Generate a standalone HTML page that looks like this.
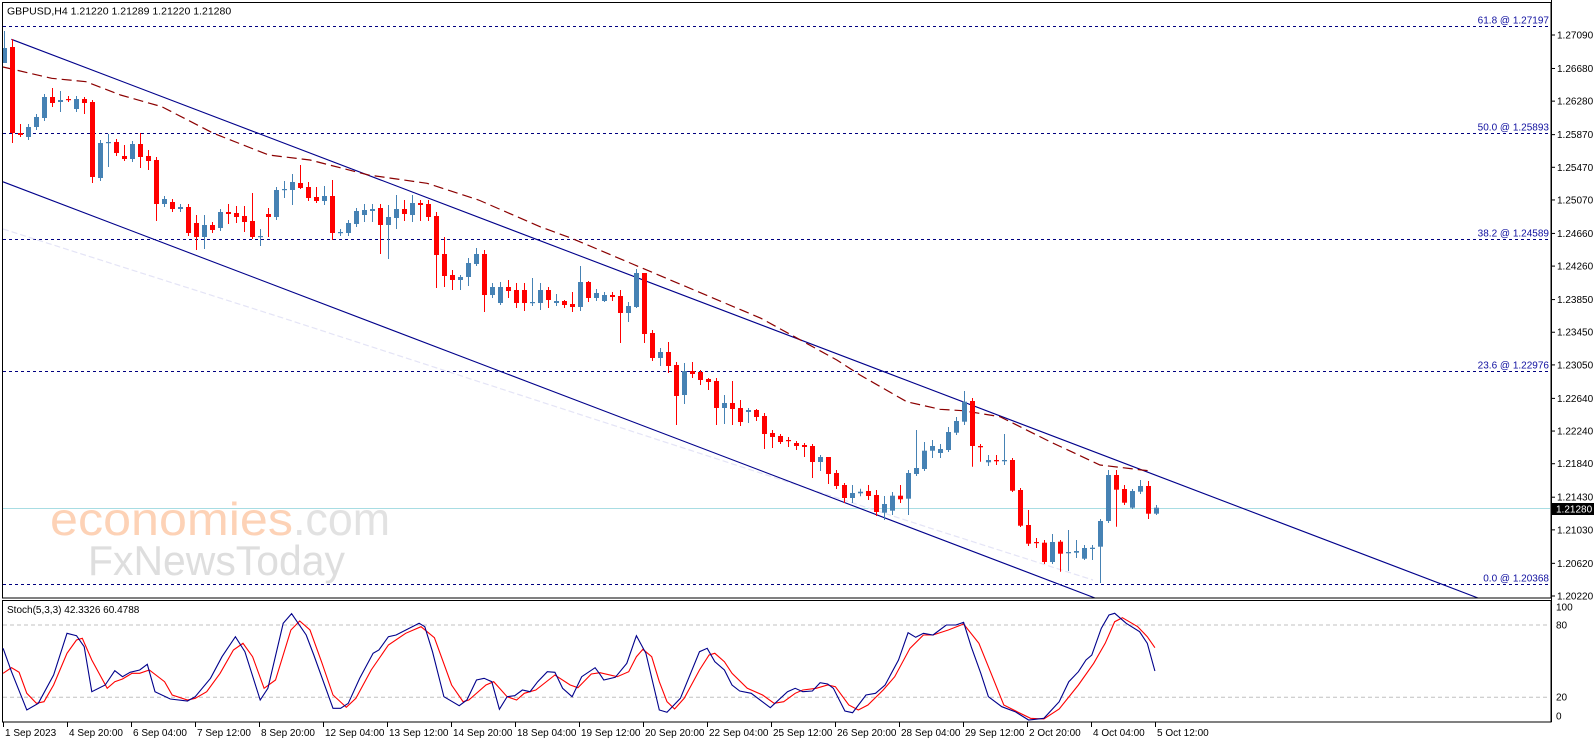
<!DOCTYPE html>
<html><head><meta charset="utf-8">
<style>
html,body{margin:0;padding:0;background:#fff;}
svg{display:block;}
text{font-family:"Liberation Sans",sans-serif;}
</style></head>
<body>
<svg id="s" xmlns="http://www.w3.org/2000/svg" width="1596" height="743" viewBox="0 0 1596 743">
<rect x="0" y="0" width="1596" height="743" fill="#fff"/>
<text x="50" y="535" font-size="46" fill="#fdd2b6" textLength="243" lengthAdjust="spacingAndGlyphs">economies</text>
<text x="293" y="535" font-size="46" fill="#e2e2e2" textLength="97" lengthAdjust="spacingAndGlyphs">.com</text>
<text x="88" y="575" font-size="42" fill="#dedede" textLength="257" lengthAdjust="spacingAndGlyphs">FxNewsToday</text>
<g id="g"></g>
</svg>
<script>
const NS="http://www.w3.org/2000/svg";
const g=document.getElementById('g');
function el(t,a,txt){const e=document.createElementNS(NS,t);for(const k in a)e.setAttribute(k,a[k]);if(txt!==undefined)e.textContent=txt;g.appendChild(e);return e;}
const Y=p=>35+(1.2709-p)*8166;
[["61.8 @ 1.27197",1.27197],["50.0 @ 1.25893",1.25893],["38.2 @ 1.24589",1.24589],["23.6 @ 1.22976",1.22976],["0.0 @ 1.20368",1.20368]].forEach(f=>{
 const y=Math.round(Y(f[1]))+0.5;
 el('line',{x1:3,y1:y,x2:1550,y2:y,stroke:'#000080','stroke-width':1,'stroke-dasharray':'3,3'});
 el('text',{x:1549,y:y-3,'font-size':10,'text-anchor':'end',fill:'#1010a0'},f[0]);
});
el('line',{x1:3,y1:508.5,x2:1550,y2:508.5,stroke:'#a8dde3','stroke-width':1});
el('polyline',{points:"3,229 286,319 520,395 933,529 1093,580",fill:'none',stroke:'#e4e4f6','stroke-width':1.2,'stroke-dasharray':'6,3'});
el('line',{x1:11.4,y1:39.3,x2:1478,y2:598,stroke:'#00008b','stroke-width':1.1});
el('line',{x1:3,y1:181.8,x2:1095,y2:598,stroke:'#00008b','stroke-width':1.1});
el('polyline',{points:"3,67 51.7,78.3 86,81.7 120.5,95 161.8,106.7 213.5,133.3 268.6,155 310,160 368.5,175 427,183.3 478.6,200 540,226.7 571.7,238.3 761,318.3 836.8,360 860,375 906.7,401.7 940,409.3 963,410.7 1000,416.7 1050,441.7 1100,465 1148,470.7",fill:'none',stroke:'#8b0000','stroke-width':1.2,'stroke-dasharray':'10,5'});
const D=[
["b",48,63,31,63],["r",47,133,39,143],["r",133,135,124,137],["b",127,137],["b",117,127],["b",97,118],["r",97,103,88,107],["b",100,102,91,112],["r",99,100,96,102],["b",99,109],["r",99,103,97,114],["r",102,177,100,183],["b",143,178],["b",142,143,134,167],["r",142,153],["r",156,159,145,161],["b",144,159],["r",144,157,133,168],["r",156,161,150,170],["r",160,204,157,221],["b",199,204],["r",202,209],["b",207,209],["r",207,233],["r",223,237,215,250],["b",225,237,215,249],["r",225,230],["b",212,228],["r",212,214,204,224],["r",213,217,206,223],["r",216,222,206,232],["r",221,237,193,239],["b",236,237,229,246],["r",214,217,208,237],["b",190,217],["b",189,190,181,198],["b",182,190,174,205],["r",183,188,165,189],["r",187,198,182,201],["r",197,201,187,203],["b",196,201,186,205],["r",196,233,180,240],["b",232,233],["b",223,233],["b",211,224],["b",210,215,204,222],["b",209,211,204,222],["r",208,225,204,254],["b",217,225,205,259],["b",209,218,195,229],["r",209,214,200,221],["b",203,215,195,222],["r",203,205,200,221],["r",204,217,200,221],["r",216,255,212,288],["r",254,276,237,287],["r",275,280,270,290],["b",277,280,275,290],["b",263,277,258,286],["b",254,264,248,266],["r",254,295,250,312],["b",287,295,283,298],["b",287,303,282,305],["r",287,291,280,298],["r",290,303,283,308],
["r",290,303,283,311],["b",302,303,278,306],["b",290,303,283,310],["r",290,300,287,308],["b",301,303,294,306],["r",301,305,300,308],["r",304,307,292,312],["b",282,307,266,311],["r",282,298,281,302],["b",293,298,289,301],["b",295,301,292,302],["r",295,297,292,301],["r",296,313,290,343],["b",306,313,302,322],["b",273,307,269,308],["r",273,334,273,343],["r",333,358,330,361],["b",352,358,348,366],["r",352,366,342,373],["r",365,396,362,425],["b",371,395,363,404],["r",371,374,362,378],["r",372,380,370,385],["r",379,382,378,390],["r",381,408,378,425],["b",403,408,395,424],["r",403,409,381,425],["r",408,422,400,426],["b",410,412,408,423],["r",410,417,409,421],["r",416,434,413,449],["r",433,437,430,448],["r",436,442,434,444],["r",440,441,437,447],["r",443,446,441,450],["r",445,447,443,457],["r",446,462,444,478],["b",457,462,455,471],["r",457,474,457,484],["r",473,486,470,489],["r",485,498,483,503],["b",493,498,485,503],
["b",491.7,493.3],["r",491,496,485,500],["r",495,512,490,516],["b",504,512.7,496,520],["b",495.7,510.7,492,515],["r",495.7,499.3,485,503],["b",473,498.7,470,515],["b",468,474,430,476],["b",450.7,469,442,471],["b",446,450.7,440,458],["b",449,453,444,458],["b",432,450,427,452],["b",421,432.7,417,435],["b",401.7,421.7,391,425],["r",401,446,398,466.7],["r",446,447.3,444,461.7],["b",460,462.3,455,466],["r",460,461.3,455,465],["b",460,461.3,434,465],["r",460,490.7,458,492],["r",490,525.7,488,527],["r",525,543.7,510,546],["r",542,543,538,548],["r",542.7,562,540,564],["b",542,562,534,564],["r",541.7,553.7,540,571.7],["b",552,553.3,530,571],["b",551,552.7,540,558],["b",548,558.7,545,560],["b",547.7,549,545,560],["b",521,546.7,519,583],["b",475,521,470,523],["r",475,489.7,470,526.7],["r",489,502.7,485,505],["b",491,507.7,489,509],["b",486,491.7,480,494],["r",486,513.7,481,519],["b",507.7,513.7,505,515]
];
D.forEach((d,i)=>{
 const x=Math.round(3.8+8*i);
 const col=d[0]=="b"?"#4682b4":"#ff0000";
 const wt=d[3]!==undefined?d[3]:d[1]-3, wb=d[4]!==undefined?d[4]:d[2]+3;
 el('line',{x1:x+0.5,y1:wt,x2:x+0.5,y2:wb,stroke:col,'stroke-width':1});
 el('rect',{x:x-2,y:d[1],width:5,height:Math.max(1.2,d[2]-d[1]),fill:col});
});
el('rect',{x:2.5,y:2.5,width:1548.5,height:595.5,fill:'none',stroke:'#000','stroke-width':1});
el('rect',{x:2.5,y:600.5,width:1548.5,height:121.5,fill:'none',stroke:'#000','stroke-width':1});
el('rect',{x:1552,y:0,width:44,height:743,fill:'#fff'});
el('line',{x1:1551.5,y1:0,x2:1551.5,y2:722,stroke:'#000','stroke-width':1});
el('text',{x:7,y:14.5,'font-size':10.5,fill:'#000'},"GBPUSD,H4  1.21220 1.21289 1.21220 1.21280");
["1.27090","1.26680","1.26280","1.25870","1.25470","1.25070","1.24660","1.24260","1.23850","1.23450","1.23050","1.22640","1.22240","1.21840","1.21430","1.21030","1.20620","1.20220"].forEach(s=>{
 const y=Y(parseFloat(s));
 el('line',{x1:1551,y1:y,x2:1555,y2:y,stroke:'#000'});
 el('text',{x:1557,y:y+3.5,'font-size':10,fill:'#000'},s);
});
el('rect',{x:1552,y:503,width:42,height:12,fill:'#000'});
el('text',{x:1556,y:512.5,'font-size':10,fill:'#fff'},"1.21280");
const SY=v=>721.4-1.205*v;
[80,20].forEach(v=>{el('line',{x1:3,y1:SY(v),x2:1550,y2:SY(v),stroke:'#c0c0c0','stroke-dasharray':'4,3'});});
el('text',{x:7,y:613,'font-size':10,fill:'#000'},"Stoch(5,3,3) 42.3326 60.4788");
[["100",607],["80",625],["20",697],["0",716]].forEach(a=>{el('text',{x:1556,y:a[1]+3.5,'font-size':10,fill:'#000'},a[0]);});
function pts(a,off){let s=[];for(let i=0;i<a.length;i+=2)s.push((off+a[i]/2.613).toFixed(1)+","+(585+a[i+1]/3).toFixed(1));return s;}
const b6=[8,190,30,260,70,375,100,355,140,270,175,145,200,152,220,185,240,320,275,300,300,257,320,275,340,262,365,255,385,238,405,320,445,342,490,348,510,335,550,280,580,215,615,155,640,200,680,345,700,310,740,115,762,86,800,150,820,210,870,370,890,370,910,355,940,280,975,205,990,195,1015,155,1035,150,1095,115,1110,125,1130,200,1160,335,1200,362,1220,345,1245,285,1265,280,1285,290,1305,373,1325,335,1345,332,1365,315,1385,320,1405,290,1430,260,1450,262,1470,310,1495,335,1520,275,1555,248];
const b7=[0,268,10,285,40,277,70,235,95,152,120,205,155,375,175,382,210,340,260,200,280,190,300,230,325,255,345,300,365,318,395,325,445,368,490,320,510,310,530,320,555,318,575,293,595,297,610,310,640,378,660,383,695,330,720,325,745,300,780,225,805,143,825,157,845,145,870,150,905,120,930,120,950,112,970,185,995,265,1015,335,1050,365,1085,380,1120,405,1160,400,1200,350,1225,290,1250,260,1270,225,1285,210,1310,130,1330,90,1345,85,1375,115,1410,140,1430,175,1450,258];
const r6=[8,265,30,248,50,262,70,325,95,355,115,350,140,300,175,205,200,165,215,160,240,225,280,310,300,290,320,282,345,265,365,265,390,255,430,290,450,330,490,345,510,340,540,320,575,265,610,195,635,175,660,215,690,310,720,285,760,135,783,108,810,135,840,230,870,330,905,367,930,340,970,255,1015,180,1060,145,1100,125,1135,158,1180,300,1210,350,1225,345,1270,300,1290,290,1325,335,1350,345,1370,325,1400,315,1450,270,1490,300,1510,308,1545,267];
const r7=[0,263,45,275,75,260,95,215,112,193,135,215,155,290,175,350,195,372,220,340,260,255,285,210,300,205,325,230,345,265,385,310,425,330,455,355,480,350,510,325,530,315,565,310,595,300,615,305,650,360,675,375,700,360,740,315,770,275,810,190,845,150,870,150,910,135,950,117,990,175,1020,260,1055,360,1090,380,1125,400,1160,402,1200,372,1250,300,1290,235,1320,175,1345,110,1365,98,1405,125,1430,155,1450,188];
el('polyline',{points:pts(r6,0).concat(pts(r7,600)).join(' '),fill:'none',stroke:'#ff0000','stroke-width':1.1});
el('polyline',{points:pts(b6,0).concat(pts(b7,600)).join(' '),fill:'none',stroke:'#00008b','stroke-width':1.1});
const TL=["1 Sep 2023","4 Sep 20:00","6 Sep 04:00","7 Sep 12:00","8 Sep 20:00","12 Sep 04:00","13 Sep 12:00","14 Sep 20:00","18 Sep 04:00","19 Sep 12:00","20 Sep 20:00","22 Sep 04:00","25 Sep 12:00","26 Sep 20:00","28 Sep 04:00","29 Sep 12:00","2 Oct 20:00","4 Oct 04:00","5 Oct 12:00"];
TL.forEach((t,i)=>{const x=3+64*i;el('line',{x1:x+0.5,y1:722,x2:x+0.5,y2:727,stroke:'#000'});el('text',{x:x+2,y:736,'font-size':10,fill:'#000'},t);});
</script>
</body></html>
